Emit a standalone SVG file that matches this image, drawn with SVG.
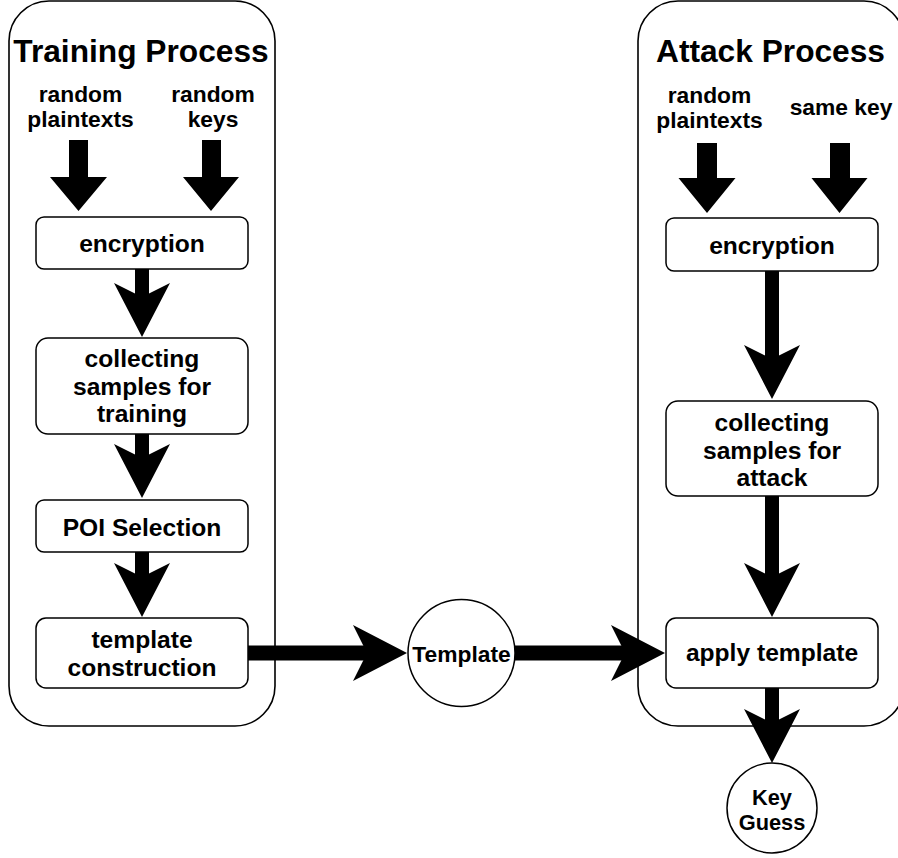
<svg xmlns="http://www.w3.org/2000/svg" width="898" height="858" viewBox="0 0 898 858">
  <style>
    .container { fill: #ffffff; stroke: #000000; stroke-width: 1.6; }
    .box { fill: #ffffff; stroke: #000000; stroke-width: 1.5; }
    .title { font-family: "Liberation Sans", Arial, sans-serif; font-weight: bold; font-size: 31.7px; text-anchor: middle; fill: #000000; }
    .label { font-family: "Liberation Sans", Arial, sans-serif; font-weight: bold; font-size: 22.8px; text-anchor: middle; fill: #000000; }
    .step { font-family: "Liberation Sans", Arial, sans-serif; font-weight: bold; font-size: 24.6px; text-anchor: middle; fill: #000000; }
    .shaft { stroke: #000000; stroke-width: 14; fill: none; marker-end: url(#classic); }
    .block { fill: #000000; stroke: none; }
  </style>
  <defs>
    <!-- notched arrowhead, 54 long and 56 wide; the notch sits on the line end -->
    <marker id="classic" markerUnits="userSpaceOnUse" markerWidth="54" markerHeight="56" refX="14" refY="28" orient="auto" overflow="visible">
      <path d="M0,0 L54,28 L0,56 L14,28 Z" fill="#000000"/>
    </marker>
  </defs>
  <rect width="898" height="858" fill="#ffffff"/>

  <!-- swimlane containers -->
  <g id="training-process">
    <rect class="container" x="9" y="1" width="266" height="725" rx="40" ry="40"/>
    <text class="title" x="141" y="62">Training Process</text>
  </g>
  <g id="attack-process">
    <rect class="container" x="638" y="1" width="266" height="725" rx="40" ry="40"/>
    <text class="title" x="770.5" y="62">Attack Process</text>
  </g>

  <!-- input labels -->
  <g id="train-plaintexts">
    <text class="label" x="80.5" y="102">random</text>
    <text class="label" x="80.5" y="127">plaintexts</text>
  </g>
  <g id="train-keys">
    <text class="label" x="213" y="102">random</text>
    <text class="label" x="213" y="127">keys</text>
  </g>
  <g id="attack-plaintexts">
    <text class="label" x="709.5" y="103">random</text>
    <text class="label" x="709.5" y="128">plaintexts</text>
  </g>
  <g id="attack-key">
    <text class="label" x="841" y="115">same key</text>
  </g>

  <!-- training steps -->
  <g id="train-encryption">
    <rect class="box" x="36" y="217" width="212" height="52" rx="8"/>
    <text class="step" x="142" y="251.5">encryption</text>
  </g>
  <g id="train-collect">
    <rect class="box" x="36" y="338" width="212" height="96" rx="12"/>
    <text class="step" x="142" y="367">collecting</text>
    <text class="step" x="142" y="394.5">samples for</text>
    <text class="step" x="142" y="422">training</text>
  </g>
  <g id="poi-selection">
    <rect class="box" x="36" y="500" width="212" height="52" rx="8"/>
    <text class="step" x="142" y="535.5">POI Selection</text>
  </g>
  <g id="template-construction">
    <rect class="box" x="36" y="618" width="212" height="70" rx="10"/>
    <text class="step" x="142" y="648">template</text>
    <text class="step" x="142" y="676">construction</text>
  </g>

  <!-- template hand-over -->
  <g id="template">
    <circle class="box" cx="461.5" cy="653" r="53.5"/>
    <text class="label" x="461.5" y="661.5">Template</text>
  </g>

  <!-- attack steps -->
  <g id="attack-encryption">
    <rect class="box" x="666" y="218" width="212" height="53" rx="8"/>
    <text class="step" x="772" y="253.5">encryption</text>
  </g>
  <g id="attack-collect">
    <rect class="box" x="666" y="401" width="212" height="95" rx="12"/>
    <text class="step" x="772" y="431">collecting</text>
    <text class="step" x="772" y="458.5">samples for</text>
    <text class="step" x="772" y="486">attack</text>
  </g>
  <g id="apply-template">
    <rect class="box" x="666" y="618" width="212" height="70" rx="10"/>
    <text class="step" x="772" y="661">apply template</text>
  </g>
  <g id="key-guess">
    <circle class="box" cx="772" cy="808" r="45"/>
    <text class="label" x="772" y="805" style="font-size:21.8px">Key</text>
    <text class="label" x="772" y="830" style="font-size:21.8px">Guess</text>
  </g>

  <!-- connectors -->
  <g id="connectors">
    <!-- block arrows from the inputs -->
    <path class="block" d="M69,140 H88 V177 H107 L78.5,211 L50,177 H69 Z"/>
    <path class="block" d="M202,140 H221 V177 H239 L211,211 L183,177 H202 Z"/>
    <path class="block" d="M697,143 H717 V178 H735.5 L707,213 L678.5,178 H697 Z"/>
    <path class="block" d="M830,143 H850 V178 H867.5 L839.5,213 L811.5,178 H830 Z"/>

    <!-- training flow -->
    <line class="shaft" x1="142" y1="269" x2="142" y2="297"/>
    <line class="shaft" x1="142" y1="434" x2="142" y2="458"/>
    <line class="shaft" x1="142" y1="552" x2="142" y2="577"/>

    <!-- template hand-over -->
    <line class="shaft" x1="248" y1="653" x2="367" y2="653" style="stroke-width:15"/>
    <line class="shaft" x1="515" y1="653" x2="625" y2="653" style="stroke-width:15"/>

    <!-- attack flow -->
    <line class="shaft" x1="772" y1="271" x2="772" y2="359"/>
    <line class="shaft" x1="772" y1="496" x2="772" y2="577"/>
    <line class="shaft" x1="772" y1="688" x2="772" y2="723"/>
  </g>
</svg>
